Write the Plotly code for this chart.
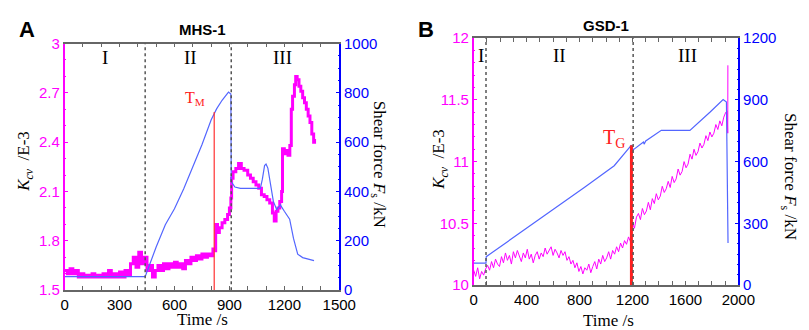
import plotly.graph_objects as go

# ---------------- Panel A: MHS-1 ----------------
a_kcv_t = [0, 15, 30, 45, 60, 75, 90, 105, 120, 135, 150, 165, 180, 195, 210, 225, 240, 255, 270, 285,
           300, 315, 330, 345, 360, 375, 390, 405, 420, 435, 450, 465, 480, 495, 510, 525, 540, 555, 570,
           585, 600, 615, 630, 645, 660, 675, 690, 705, 720, 735, 750, 765, 780, 795, 810, 820, 825, 835,
           845, 860, 875, 890, 900, 908, 912, 920, 935, 950, 965, 980, 1000, 1015, 1030, 1045, 1060, 1075,
           1090, 1105, 1120, 1135, 1145, 1155, 1165, 1175, 1185, 1190, 1200, 1210, 1220, 1230, 1238, 1245,
           1255, 1262, 1270, 1280, 1290, 1300, 1310, 1320, 1330, 1340, 1350, 1360, 1365]
a_kcv = [1.62, 1.60, 1.63, 1.60, 1.62, 1.58, 1.60, 1.58, 1.59, 1.58, 1.60, 1.58, 1.59, 1.58, 1.60, 1.58,
         1.62, 1.58, 1.60, 1.58, 1.61, 1.58, 1.62, 1.59, 1.66, 1.70, 1.64, 1.73, 1.66, 1.70, 1.62, 1.65,
         1.58, 1.62, 1.65, 1.62, 1.66, 1.63, 1.66, 1.64, 1.67, 1.64, 1.66, 1.63, 1.68, 1.66, 1.70, 1.68,
         1.71, 1.69, 1.72, 1.70, 1.72, 1.71, 1.75, 1.74, 1.90, 1.85, 1.88, 1.91, 1.93, 1.96, 2.00, 2.06,
         2.18, 2.22, 2.24, 2.27, 2.24, 2.23, 2.20, 2.18, 2.16, 2.14, 2.12, 2.08, 2.07, 2.05, 2.03, 1.97,
         1.92, 1.98, 2.00, 2.04, 2.10, 2.36, 2.33, 2.35, 2.32, 2.38, 2.60, 2.68, 2.75, 2.80, 2.78, 2.74,
         2.71, 2.67, 2.64, 2.60, 2.56, 2.52, 2.45, 2.40, 2.42]

a_force_t = [0, 440, 460, 500, 550, 600, 650, 700, 750, 800, 830, 860, 880, 895, 908, 910, 930, 960,
             1069, 1080, 1092, 1100, 1110, 1125, 1140, 1158, 1170, 1178, 1200, 1229, 1250, 1273, 1300,
             1330, 1362]
a_force = [55, 55, 95, 175, 265, 330, 410, 500, 590, 690, 735, 770, 790, 803, 795, 440, 418, 413,
           413, 450, 505, 511, 495, 430, 360, 327, 340, 346, 320, 288, 210, 146, 132, 125, 120]

a_stage_bounds = [440, 910]
a_tm_time = 817
a_tm_force = 722

# ---------------- Panel B: GSD-1 ----------------
b_kcv_t = list(range(0, 1906, 15)) + [1915, 1920, 1921]
b_kcv = [10.12, 10.07, 10.14, 10.05, 10.11, 10.08, 10.13,
         10.16, 10.12, 10.19, 10.14, 10.21, 10.17, 10.15, 10.23, 10.18, 10.26, 10.20, 10.24, 10.17, 10.27,
         10.22, 10.28, 10.24, 10.19, 10.26, 10.22, 10.29, 10.21, 10.25, 10.18, 10.24, 10.27, 10.21, 10.26,
         10.23, 10.30, 10.25, 10.28, 10.31, 10.24, 10.29, 10.26, 10.22, 10.28, 10.24, 10.27, 10.20,
         10.23, 10.17, 10.20, 10.14, 10.18, 10.11, 10.15, 10.09, 10.14, 10.12,
         10.17, 10.10, 10.15, 10.19, 10.13, 10.21, 10.17, 10.24, 10.19, 10.22, 10.27, 10.21, 10.28, 10.25,
         10.31, 10.27, 10.34, 10.30, 10.36, 10.33, 10.39, 10.35,
         10.50, 10.46, 10.55, 10.58, 10.53, 10.62, 10.57, 10.60, 10.67, 10.61, 10.70, 10.66, 10.74, 10.69,
         10.72, 10.80, 10.75, 10.78, 10.84, 10.79, 10.88, 10.83, 10.86, 10.94, 10.89, 10.92, 11.00, 10.95,
         10.98, 11.06, 11.02, 11.10, 11.05, 11.08, 11.15, 11.11, 11.14, 11.21, 11.17, 11.24, 11.20, 11.23,
         11.30, 11.26, 11.33, 11.29, 11.36, 11.40,
         11.41, 11.23, 11.78]

b_force_t = [0, 93, 95, 500, 841, 1062, 1192, 1205, 1260, 1283, 1288, 1300, 1418, 1634, 1787, 1885,
             1910, 1922]
b_force = [107, 107, 138, 321, 476, 580, 680, 657, 685, 695, 685, 700, 752, 752, 841, 902, 890, 204]

b_stage_bounds = [93, 1205]
b_tg_time = 1192
b_tg_force = 680

MAG = "#ff00ff"
BLUE_AX = "#0000ff"
BLUE_LN = "#5366ff"
SERIF = "Liberation Serif"
SANS = "Liberation Sans"

fig = go.Figure()
fig.add_trace(go.Scatter(x=a_kcv_t, y=a_kcv, mode="lines", line=dict(color=MAG, width=3, shape="hv"),
                         xaxis="x", yaxis="y", showlegend=False))
fig.add_trace(go.Scatter(x=a_force_t, y=a_force, mode="lines", line=dict(color=BLUE_LN, width=1.2),
                         xaxis="x", yaxis="y2", showlegend=False))
fig.add_trace(go.Scatter(x=[a_tm_time, a_tm_time], y=[0, a_tm_force], mode="lines",
                         line=dict(color="#ff3030", width=1.2), xaxis="x", yaxis="y2", showlegend=False))

fig.add_trace(go.Scatter(x=b_kcv_t, y=b_kcv, mode="lines", line=dict(color=MAG, width=1),
                         xaxis="x2", yaxis="y3", showlegend=False))
fig.add_trace(go.Scatter(x=b_force_t, y=b_force, mode="lines", line=dict(color=BLUE_LN, width=1.2),
                         xaxis="x2", yaxis="y4", showlegend=False))
fig.add_trace(go.Scatter(x=[b_tg_time, b_tg_time], y=[0, b_tg_force], mode="lines",
                         line=dict(color="#ff2020", width=3), xaxis="x2", yaxis="y4", showlegend=False))

shapes = []
for t in a_stage_bounds:
    shapes.append(dict(type="line", xref="x", yref="y domain", x0=t, x1=t, y0=0, y1=1,
                       line=dict(color="#555555", width=1.5, dash="dot")))
for t in b_stage_bounds:
    shapes.append(dict(type="line", xref="x2", yref="y3 domain", x0=t, x1=t, y0=0, y1=1,
                       line=dict(color="#555555", width=1.5, dash="dot")))

W, H = 809, 330


def px(x):
    return x / W


def py(y):
    return 1 - y / H


ann = []


def text(x, y, s, size, color="black", family=SERIF, angle=0):
    ann.append(dict(x=px(x), y=py(y), xref="paper", yref="paper", text=s, showarrow=False,
                    font=dict(family=family, size=size, color=color), textangle=angle,
                    xanchor="center", yanchor="middle"))


text(15, 13, "<b>A</b>", 22, family=SANS)
text(425, 13, "<b>B</b>", 22, family=SANS)
text(196, 13, "<b>MHS-1</b>", 15, family=SANS)
text(610, 9, "<b>GSD-1</b>", 15, family=SANS)
text(95, 43, "I", 19)
text(183, 43, "II", 19)
text(278, 43, "III", 19)
text(481, 41, "I", 19)
text(562, 41, "II", 19)
text(693, 41, "III", 19)
text(188, 86, "T<sub>M</sub>", 16, color="#ff2020")
text(618, 128, "T<sub>G</sub>", 20, color="#ff2020")
text(14, 152, "<i>K</i><sub><i>cv</i></sub>  /E-3", 17, angle=-90)
text(440, 150, "<i>K</i><sub><i>cv</i></sub>  /E-3", 17, angle=-90)
text(376, 155, "Shear force <i>F</i><sub>s</sub> /kN", 17, angle=90)
text(797, 168, "Shear force <i>F</i><sub>s</sub> /kN", 17, angle=90)
text(196, 319, "Time /s", 17)
text(612, 320, "Time /s", 17)

tickfont_black = dict(family=SANS, size=15, color="black")
xcommon = dict(showgrid=False, zeroline=False, showline=True, linecolor="#666666", linewidth=1.5,
               mirror="allticks", ticks="inside", ticklen=4, tickcolor="#666666",
               minor=dict(ticks="inside", ticklen=2, tickcolor="#666666", nticks=5),
               tickfont=tickfont_black)

fig.update_layout(
    width=W, height=H, margin=dict(l=0, r=0, t=0, b=0),
    paper_bgcolor="white", plot_bgcolor="white",
    shapes=shapes, annotations=ann,
    xaxis=dict(domain=[px(54), px(336)], anchor="y", range=[0, 1500], tickvals=[0, 300, 600, 900, 1200, 1500],
               **xcommon),
    yaxis=dict(domain=[py(288), py(28)], anchor="x", range=[1.5, 3], tickvals=[1.5, 1.8, 2.1, 2.4, 2.7, 3],
               ticktext=["1.5", "1.8", "2.1", "2.4", "2.7", "3"],
               showgrid=False, zeroline=False, showline=True, linecolor=MAG, linewidth=1.5,
               ticks="inside", ticklen=4, tickcolor=MAG,
               minor=dict(ticks="inside", ticklen=2, tickcolor=MAG, nticks=6),
               tickfont=dict(family=SANS, size=15, color=MAG)),
    yaxis2=dict(overlaying="y", side="right", anchor="x", range=[0, 1000], tickvals=[0, 200, 400, 600, 800, 1000],
                showgrid=False, zeroline=False, showline=True, linecolor=BLUE_AX, linewidth=1.5,
                ticks="inside", ticklen=4, tickcolor=BLUE_AX,
                minor=dict(ticks="inside", ticklen=2, tickcolor=BLUE_AX, nticks=5),
                tickfont=dict(family=SANS, size=15, color=BLUE_AX)),
    xaxis2=dict(domain=[px(474), px(745.7)], anchor="y3", range=[0, 2000], tickvals=[0, 400, 800, 1200, 1600, 2000],
                **xcommon),
    yaxis3=dict(domain=[py(282.6), py(22.3)], anchor="x2", range=[10, 12], tickvals=[10, 10.5, 11, 11.5, 12],
                ticktext=["10", "10.5", "11", "11.5", "12"],
                showgrid=False, zeroline=False, showline=True, linecolor=MAG, linewidth=1.5,
                ticks="inside", ticklen=4, tickcolor=MAG,
                minor=dict(ticks="inside", ticklen=2, tickcolor=MAG, nticks=6),
                tickfont=dict(family=SANS, size=15, color=MAG)),
    yaxis4=dict(overlaying="y3", side="right", anchor="x2", range=[0, 1200], tickvals=[0, 300, 600, 900, 1200],
                showgrid=False, zeroline=False, showline=True, linecolor=BLUE_AX, linewidth=1.5,
                ticks="inside", ticklen=4, tickcolor=BLUE_AX,
                minor=dict(ticks="inside", ticklen=2, tickcolor=BLUE_AX, nticks=6),
                tickfont=dict(family=SANS, size=15, color=BLUE_AX)),
)

fig.write_html("out.html")
